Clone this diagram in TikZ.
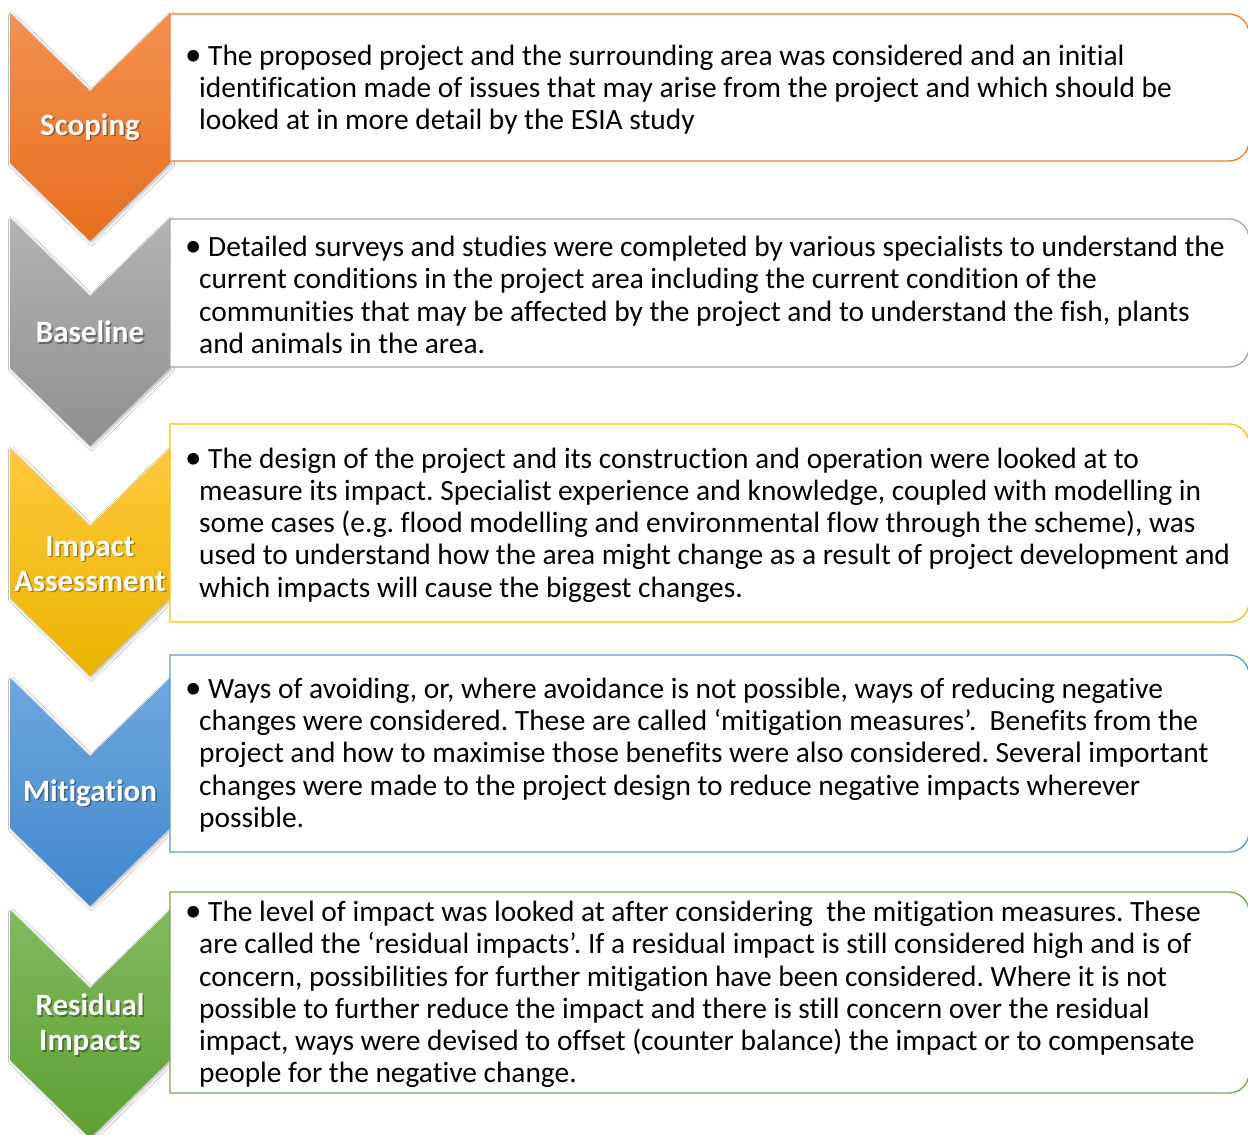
\documentclass[tikz,border=0pt]{standalone}
\usepackage{fontspec}
\setmainfont{Carlito}[Ligatures={NoCommon}]
\usetikzlibrary{shadows.blur}
\frenchspacing

% stage colours: gradient top / bottom, box outline
\definecolor{scopeTop}{HTML}{F39151}\definecolor{scopeBot}{HTML}{E66F1C}\definecolor{scopeLine}{HTML}{ED7D31}
\definecolor{baseTop}{HTML}{B3B3B3}\definecolor{baseBot}{HTML}{8F8F8F}\definecolor{baseLine}{HTML}{A5A5A5}
\definecolor{impTop}{HTML}{FFC93C}\definecolor{impBot}{HTML}{EBB300}\definecolor{impLine}{HTML}{FFC000}
\definecolor{mitTop}{HTML}{6FA6DE}\definecolor{mitBot}{HTML}{3E87CC}\definecolor{mitLine}{HTML}{5B9BD5}
\definecolor{resTop}{HTML}{80BA5E}\definecolor{resBot}{HTML}{5E9F33}\definecolor{resLine}{HTML}{70AD47}

% chevron pointing down, top edge at y=#1
\newcommand{\chevpath}[1]{(10,#1) -- (90,#1+78) -- (170,#1) -- (170,#1+150) -- (90,#1+228) -- (10,#1+150) -- cycle}
% text box with square left corners and rounded right corners
\newcommand{\boxpath}[2]{(170,#1) -- (1229,#1) .. controls (1240,#1) and (1249,#1+9) .. (1249,#1+20)
  -- (1249,#2-20) .. controls (1249,#2-9) and (1240,#2) .. (1229,#2) -- (170,#2) -- cycle}
\newcommand{\bul}{\makebox[20pt][l]{\hspace*{-3pt}\scalebox{1.12}{\textbullet}}}
\newcommand{\ind}{\hspace*{11pt}}

\tikzset{
  chevron/.style={blur shadow={shadow xshift=1.5pt, shadow yshift=-1.5pt,
      shadow blur radius=3pt, shadow opacity=30}},
  stagelabel/.style={text=white, align=center, inner sep=0,
      font=\fontsize{31}{35}\selectfont\bfseries},
  stageshade/.style={stagelabel, text=black, opacity=0.35},
  stepbox/.style={fill=white, line width=1.3pt},
  bodytext/.style={anchor=west, align=left, inner sep=0,
      font=\fontsize{29.4}{32.3}\selectfont\frenchspacing}
}

\begin{document}
\begin{tikzpicture}[x=1pt,y=-1pt]
\useasboundingbox[fill=white] (0,0) rectangle (1248,1135);

% ---- chevrons ----
\path[chevron, top color=scopeTop, bottom color=scopeBot] \chevpath{13};
\path[chevron, top color=baseTop, bottom color=baseBot] \chevpath{218};
\path[chevron, top color=impTop, bottom color=impBot] \chevpath{448};
\path[chevron, top color=mitTop, bottom color=mitBot] \chevpath{678};
\path[chevron, top color=resTop, bottom color=resBot] \chevpath{910};

% ---- boxes ----
\draw[stepbox, draw=scopeLine] \boxpath{14}{161};
\draw[stepbox, draw=baseLine] \boxpath{219}{367};
\draw[stepbox, draw=impLine] \boxpath{424}{622};
\draw[stepbox, draw=mitLine] \boxpath{655}{852};
\draw[stepbox, draw=resLine] \boxpath{892}{1093};

% ---- stage labels ----
\node[stageshade] (scopingS) at (91.5,128.5) {Scoping};
\node[stagelabel] (scoping) at (90,127) {Scoping};
\node[stageshade] (baselineS) at (91.5,333.5) {Baseline};
\node[stagelabel] (baseline) at (90,332) {Baseline};
\node[stageshade] (impactS) at (91.5,565.5) {Impact\\Assessment};
\node[stagelabel] (impact) at (90,564) {Impact\\Assessment};
\node[stageshade] (mitigationS) at (91.5,794.5) {Mitigation};
\node[stagelabel] (mitigation) at (90,793) {Mitigation};
\node[stageshade] (residualS) at (91.5,1026.5) {Residual\\Impacts};
\node[stagelabel] (residual) at (90,1025) {Residual\\Impacts};

% ---- descriptions ----
\node[bodytext] (scopingtext) at (188,89.5) {%
\bul The proposed project and the surrounding area was considered and an initial\\
\ind identification made of issues that may arise from the project and which should be\\
\ind looked at in more detail by the ESIA study};

\node[bodytext] (baselinetext) at (188,295) {%
\bul Detailed surveys and studies were completed by various specialists to understand the\\
\ind current conditions in the project area including the current condition of the\\
\ind communities that may be affected by the project and to understand the fish, plants\\
\ind and animals in the area.};

\node[bodytext] (impacttext) at (188,525) {%
\bul The design of the project and its construction and operation were looked at to\\
\ind measure its impact. Specialist experience and knowledge, coupled with modelling in\\
\ind some cases (e.g. flood modelling and environmental flow through the scheme), was\\
\ind used to understand how the area might change as a result of project development and\\
\ind which impacts will cause the biggest changes.};

\node[bodytext] (mitigationtext) at (188,755) {%
\bul Ways of avoiding, or, where avoidance is not possible, ways of reducing negative\\
\ind changes were considered. These are called ‘mitigation measures’.~ Benefits from the\\
\ind project and how to maximise those benefits were also considered. Several important\\
\ind changes were made to the project design to reduce negative impacts wherever\\
\ind possible.};

\node[bodytext] (residualtext) at (188,994.5) {%
\bul The level of impact was looked at after considering~ the mitigation measures. These\\
\ind are called the ‘residual impacts’. If a residual impact is still considered high and is of\\
\ind concern, possibilities for further mitigation have been considered. Where it is not\\
\ind possible to further reduce the impact and there is still concern over the residual\\
\ind impact, ways were devised to offset (counter balance) the impact or to compensate\\
\ind people for the negative change.};
\end{tikzpicture}
\end{document}
